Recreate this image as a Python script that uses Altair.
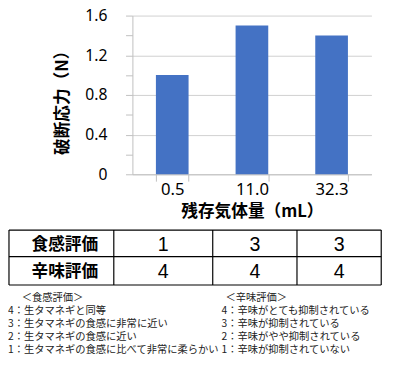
import altair as alt
import pandas as pd

# ---------------- data ----------------
categories = ["0.5", "11.0", "32.3"]
breaking_stress = [1.0, 1.5, 1.4]
y_ticks = [0, 0.2, 0.4, 0.6, 0.8, 1.0, 1.2, 1.4, 1.6]
x_title = "残存気体量（mL）"
y_title = "破断応力（N）"

row_labels = ["食感評価", "辛味評価"]
texture_scores = [1, 3, 3]
pungency_scores = [4, 4, 4]

texture_notes = [
    "＜食感評価＞",
    "4：生タマネギと同等",
    "3：生タマネギの食感に非常に近い",
    "2：生タマネギの食感に近い",
    "1：生タマネギの食感に比べて非常に柔らかい",
]
pungency_notes = [
    "＜辛味評価＞",
    "4：辛味がとても抑制されている",
    "3：辛味が抑制されている",
    "2：辛味がやや抑制されている",
    "1：辛味が抑制されていない",
]

# ---------------- layout (page pixels) ----------------
ORIGIN_X, ORIGIN_Y = 135, 12
PLOT_W, PLOT_H = 244, 162
TABLE_X = [9, 116, 217, 303, 389]
TABLE_Y = [231, 258, 287]
LABEL_CX = 66
ROW_TEXT_DY = 1.5
NOTE_Y0, NOTE_STEP = 300.5, 13.2
NOTE_LEFT_X, NOTE_LEFT_HEAD_X = 8, 22
NOTE_RIGHT_X, NOTE_RIGHT_HEAD_X = 226, 230

CJK = "Noto Sans CJK JP"


def rx(px):
    return px - ORIGIN_X


def ry(py):
    return py - ORIGIN_Y


# ---------------- bar chart ----------------
bar_df = pd.DataFrame({"cat": categories, "val": breaking_stress})

major = "round(datum.value*10) % 4 == 0"
bars = alt.Chart(bar_df).mark_bar(color="#4472C4").encode(
    x=alt.X(
        "cat:N",
        sort=categories,
        scale=alt.Scale(paddingInner=0.59, paddingOuter=0.295),
        axis=alt.Axis(
            title=x_title,
            labelAngle=0,
            tickBand="extent",
            tickSize=7,
            tickColor="#BFBFBF",
            domainColor="#BFBFBF",
            labelFont="Noto Sans",
            labelFontSize=17,
            labelColor="black",
            labelPadding=1,
            titleFont=CJK,
            titleFontSize=17,
            titleFontWeight="bold",
            titleColor="black",
            titleBaseline="middle",
            titleY=38,
            grid=False,
        ),
    ),
    y=alt.Y(
        "val:Q",
        scale=alt.Scale(domain=[0, 1.6], nice=False),
        axis=alt.Axis(
            title=y_title,
            values=y_ticks,
            labelExpr=f"{major} ? (datum.value == 0 ? '0' : format(datum.value, '.1f')) : ''",
            labelOverlap=False,
            grid=True,
            gridColor="#D0D0D0",
            gridOpacity={"condition": {"test": major, "value": 1}, "value": 0},
            tickSize=7,
            tickColor="#BFBFBF",
            domainColor="#BFBFBF",
            labelFont="Noto Sans",
            labelFontSize=16,
            labelColor="black",
            labelPadding=19,
            titleFont=CJK,
            titleFontSize=17,
            titleFontWeight="bold",
            titleColor="black",
            titleAngle=270,
            titleAlign="center",
            titleBaseline="middle",
            titleX=rx(64),
            titleY=ry(96.5),
        ),
    ),
)

# ---------------- table ----------------
rule_rows = []
for yv in TABLE_Y:
    rule_rows.append({"x1": rx(TABLE_X[0]), "x2": rx(TABLE_X[-1]), "y1": ry(yv), "y2": ry(yv)})
for xv in TABLE_X:
    rule_rows.append({"x1": rx(xv), "x2": rx(xv), "y1": ry(TABLE_Y[0]), "y2": ry(TABLE_Y[-1])})
rule_df = pd.DataFrame(rule_rows)

table_rules = alt.Chart(rule_df).mark_rule(color="black", strokeWidth=1.2).encode(
    x=alt.X("x1:Q", scale=None, axis=None),
    x2="x2:Q",
    y=alt.Y("y1:Q", scale=None, axis=None),
    y2="y2:Q",
)

label_rows, value_rows = [], []
for r, (lab, scores) in enumerate(zip(row_labels, [texture_scores, pungency_scores])):
    cy = (TABLE_Y[r] + TABLE_Y[r + 1]) / 2 + ROW_TEXT_DY
    label_rows.append({"text": lab, "px": rx(LABEL_CX), "py": ry(cy)})
    for c, s in enumerate(scores):
        cx = (TABLE_X[c + 1] + TABLE_X[c + 2]) / 2
        value_rows.append({"text": str(s), "px": rx(cx), "py": ry(cy)})

table_labels = alt.Chart(pd.DataFrame(label_rows)).mark_text(
    font=CJK, fontSize=17, fontWeight="bold", color="black", align="center", baseline="middle"
).encode(
    x=alt.X("px:Q", scale=None, axis=None),
    y=alt.Y("py:Q", scale=None, axis=None),
    text="text:N",
)

table_values = alt.Chart(pd.DataFrame(value_rows)).mark_text(
    font="Liberation Sans Narrow, Arial Narrow, Liberation Sans", fontSize=20,
    color="black", align="center", baseline="middle"
).encode(
    x=alt.X("px:Q", scale=None, axis=None),
    y=alt.Y("py:Q", scale=None, axis=None),
    text="text:N",
)

# ---------------- notes ----------------
note_rows = []
for i, t in enumerate(texture_notes):
    note_rows.append({"text": t, "px": rx(NOTE_LEFT_HEAD_X if i == 0 else NOTE_LEFT_X),
                      "py": ry(NOTE_Y0 + i * NOTE_STEP)})
for i, t in enumerate(pungency_notes):
    note_rows.append({"text": t, "px": rx(NOTE_RIGHT_HEAD_X if i == 0 else NOTE_RIGHT_X),
                      "py": ry(NOTE_Y0 + i * NOTE_STEP)})

notes = alt.Chart(pd.DataFrame(note_rows)).mark_text(
    font=CJK, fontSize=10.5, color="#222222", align="left", baseline="middle"
).encode(
    x=alt.X("px:Q", scale=None, axis=None),
    y=alt.Y("py:Q", scale=None, axis=None),
    text="text:N",
)

chart = alt.layer(bars, table_rules, table_labels, table_values, notes).properties(
    width=PLOT_W,
    height=PLOT_H,
    autosize=alt.AutoSizeParams(type="none"),
    padding={"left": ORIGIN_X - 8, "top": ORIGIN_Y - 8, "right": 392 - (ORIGIN_X - 8 + PLOT_W),
             "bottom": 360 - (ORIGIN_Y - 8 + PLOT_H)},
).configure_view(stroke=None)

chart.save("out.html", embed_options={"renderer": "svg", "actions": False})
